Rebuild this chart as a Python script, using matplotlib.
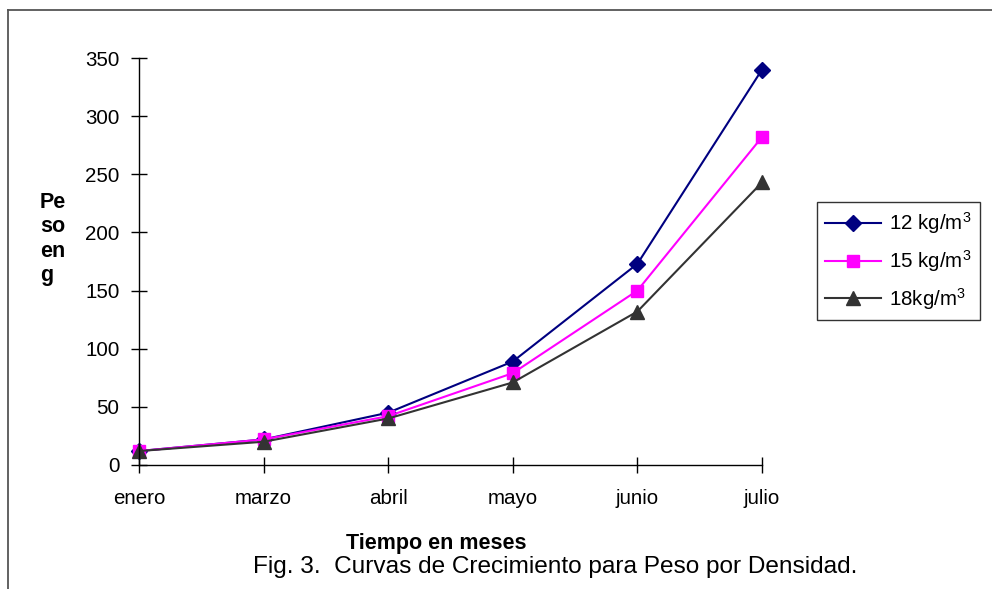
import matplotlib
matplotlib.use("Agg")
import matplotlib.pyplot as plt
from matplotlib.lines import Line2D

plt.rcParams['font.family'] = ['Liberation Sans', 'DejaVu Sans']
plt.rcParams['mathtext.fontset'] = 'custom'
plt.rcParams['mathtext.rm'] = 'Liberation Sans'
plt.rcParams['mathtext.it'] = 'Liberation Sans'

# Growth data (weight in g) per stocking density
months = ["enero", "marzo", "abril", "mayo", "junio", "julio"]
peso_12 = [12, 22, 45, 89, 173, 340]
peso_15 = [12, 22, 42, 79, 150, 282]
peso_18 = [12, 20, 40, 71, 132, 243]
series_labels = ["12 kg/m$^3$", "15 kg/m$^3$", "18kg/m$^3$"]
y_ticks = [0, 50, 100, 150, 200, 250, 300, 350]

W, H = 992, 589
fig = plt.figure(figsize=(W / 100, H / 100), dpi=100)
fs = 14.8

# Outer frame (top and left edges)
fig.add_artist(Line2D([8 / W, 8 / W], [0, 1 - 10 / H], transform=fig.transFigure,
                      color="#555555", lw=1.3))
fig.add_artist(Line2D([8 / W, 1], [1 - 10 / H, 1 - 10 / H], transform=fig.transFigure,
                      color="#555555", lw=1.3))

ax = fig.add_axes([139 / W, 124 / H, (762 - 139) / W, (465 - 58) / H])
x = list(range(len(months)))

styles = [
    (peso_12, "#000080", "D", 8),
    (peso_15, "#FF00FF", "s", 9),
    (peso_18, "#333333", "^", 9.5),
]
handles = []
for (vals, col, mk, ms), lab in zip(styles, series_labels):
    h, = ax.plot(x, vals, color=col, marker=mk, markersize=ms, lw=1.5,
                 markerfacecolor=col, markeredgecolor=col, label=lab, clip_on=False)
    handles.append(h)

ax.set_xlim(0, len(months) - 1)
ax.set_ylim(0, 350)
ax.set_yticks(y_ticks)
ax.set_xticks(x)
ax.set_xticklabels(months)
for s in ["top", "right"]:
    ax.spines[s].set_visible(False)
for s in ["left", "bottom"]:
    ax.spines[s].set_linewidth(1.0)
ax.tick_params(axis="both", direction="inout", length=12, width=1.0, labelsize=fs)
ax.tick_params(axis="y", pad=8)
ax.tick_params(axis="x", pad=11)

fig.text(436 / W, 1 - 543 / H, "Tiempo en meses", ha="center", va="center",
         fontsize=15.5, fontweight="bold")
fig.text(40 / W, 1 - 239 / H, "Pe\nso\nen\ng", ha="left", va="center",
         fontsize=15.5, fontweight="bold", linespacing=1.2)
fig.text(253 / W, 1 - 567 / H, "Fig. 3.  Curvas de Crecimiento para Peso por Densidad.",
         ha="left", va="center", fontsize=17.6)

leg = fig.legend(handles=handles, loc="upper left",
                 bbox_to_anchor=(817 / W, 1 - 202 / H), fontsize=fs,
                 frameon=True, fancybox=False, shadow=False, borderpad=0.4,
                 handlelength=2.7, handletextpad=0.4, labelspacing=0.58,
                 borderaxespad=0)
leg.get_frame().set_edgecolor("black")
leg.get_frame().set_linewidth(1.0)

fig.savefig("out.png", dpi=100)
